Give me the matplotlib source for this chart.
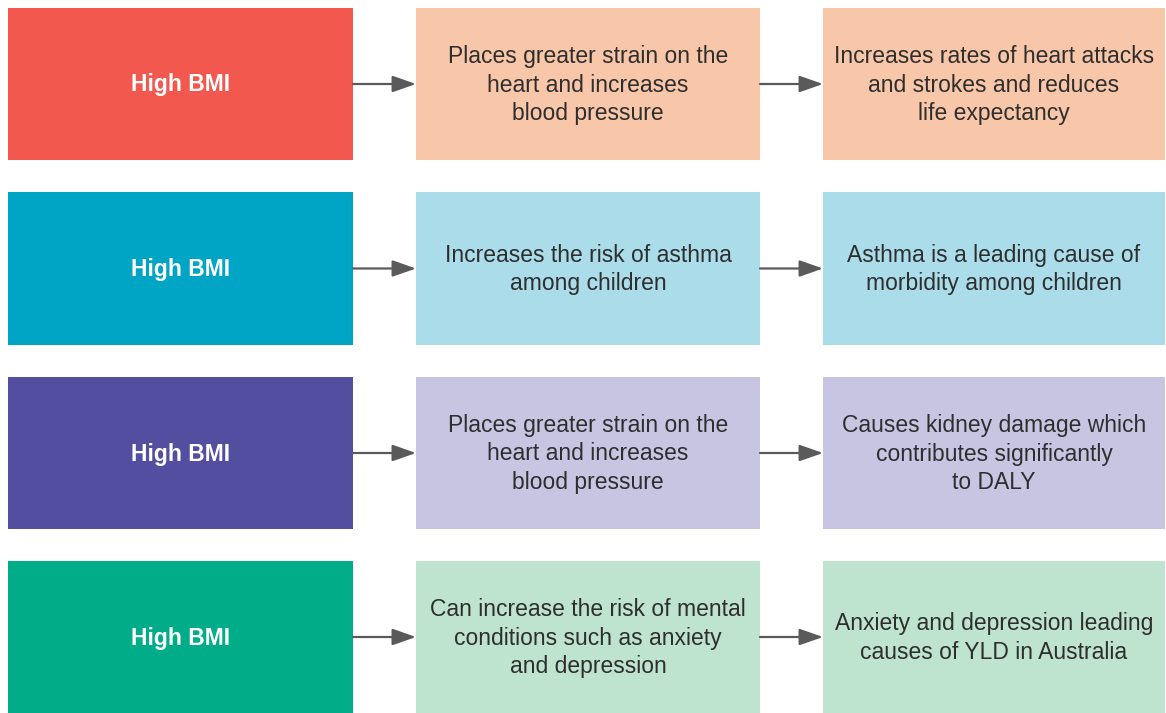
import matplotlib.pyplot as plt
from matplotlib.patches import Rectangle

plt.rcParams['font.family'] = ['Liberation Sans', 'DejaVu Sans']

causes = ["High BMI", "High BMI", "High BMI", "High BMI"]
effects = [
    "Places greater strain on the\nheart and increases\nblood pressure",
    "Increases the risk of asthma\namong children",
    "Places greater strain on the\nheart and increases\nblood pressure",
    "Can increase the risk of mental\nconditions such as anxiety\nand depression",
]
outcomes = [
    "Increases rates of heart attacks\nand strokes and reduces\nlife expectancy",
    "Asthma is a leading cause of\nmorbidity among children",
    "Causes kidney damage which\ncontributes significantly\nto DALY",
    "Anxiety and depression leading\ncauses of YLD in Australia",
]
dark_colors = ["#F2584D", "#00A4C4", "#534E9F", "#00AD88"]
light_colors = ["#F8C6A8", "#AADCE9", "#C8C5E3", "#BEE3CE"]

# layout in pixels
col_x = [(8, 353), (416, 760), (823, 1165)]
row_y = [(8, 160), (192, 345), (377, 529), (561, 713)]

fig = plt.figure(figsize=(11.66, 7.13), dpi=100)
ax = fig.add_axes([0, 0, 1, 1])
ax.set_xlim(0, 1166)
ax.set_ylim(713, 0)
ax.axis('off')

for i, (y0, y1) in enumerate(row_y):
    yc = (y0 + y1) / 2
    texts = [causes[i], effects[i], outcomes[i]]
    fills = [dark_colors[i], light_colors[i], light_colors[i]]
    for j, (x0, x1) in enumerate(col_x):
        ax.add_patch(Rectangle((x0, y0), x1 - x0, y1 - y0, color=fills[j], lw=0))
        if j == 0:
            ax.text((x0 + x1) / 2, yc + 1, texts[j], ha='center', va='center',
                    color='white', fontsize=16.5, fontweight='bold')
        else:
            ax.text((x0 + x1) / 2, yc + 1, texts[j], ha='center', va='center',
                    color='#2e2e2e', fontsize=16.5, linespacing=1.31)
    for j in range(2):
        ax.annotate("", xy=(col_x[j + 1][0], yc), xytext=(col_x[j][1], yc),
                    arrowprops=dict(arrowstyle='-|>,head_length=0.8,head_width=0.28',
                                    color='#5a5a5a', lw=1.6,
                                    mutation_scale=18, shrinkA=0, shrinkB=0))

fig.savefig("out.png", dpi=100, facecolor='white')
